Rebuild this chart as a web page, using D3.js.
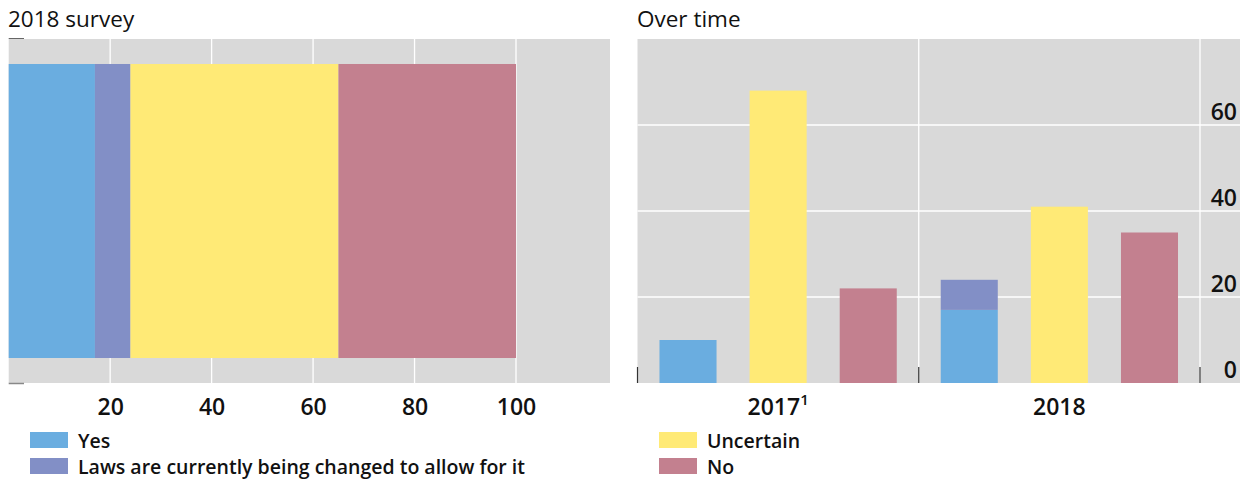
<!DOCTYPE html>
<html>
<head>
<meta charset="utf-8">
<script src="https://cdn.jsdelivr.net/npm/d3@7"></script>
<style>
  html, body { margin: 0; padding: 0; background: #fff; }
  svg { display: block; font-family: "Open Sans", "Noto Sans", sans-serif; }
</style>
</head>
<body>
<svg id="chart" width="1247" height="479"></svg>
<script>
// Answer categories and their colours
const series = ["Yes", "Laws are currently being changed to allow for it", "Uncertain", "No"];
const colors = ["#6aade0", "#828fc6", "#ffea76", "#c3808f"];

// 2018 survey shares (per cent)
const survey2018 = [17, 7, 41, 35];

// Over time: survey years and shares per answer
const years = ["2017", "2018"];
const yesByYear = [10, 17];
const lawsByYear = [0, 7];
const uncertainByYear = [68, 41];
const noByYear = [22, 35];

const leftTicks = [20, 40, 60, 80, 100];
const rightTicks = [0, 20, 40, 60];

const svg = d3.select("#chart");
const grey = "#d9d9d9";
const textColor = "#111";
const tickFont = 23;

// ---------- Left panel: 2018 survey ----------
const L = { left: 8.7, right: 610, top: 39, bottom: 383 };
const xL = d3.scaleLinear().domain([0, 100]).range([L.left, 516]);
const yL = d3.scaleBand().domain(["2018"]).range([L.top, L.bottom]).paddingInner(0).paddingOuter(0.085);

const gL = svg.append("g");
gL.append("rect").attr("x", L.left).attr("y", L.top)
  .attr("width", L.right - L.left).attr("height", L.bottom - L.top).attr("fill", grey);

gL.selectAll("line.grid").data(leftTicks).join("line")
  .attr("class", "grid")
  .attr("x1", d => xL(d)).attr("x2", d => xL(d))
  .attr("y1", L.top).attr("y2", L.bottom)
  .attr("stroke", "#fff").attr("stroke-width", 1.3);

let cum = 0;
const segs = survey2018.map((v, i) => { const s = { i, x0: cum, x1: cum + v }; cum += v; return s; });
gL.selectAll("rect.seg").data(segs).join("rect")
  .attr("class", "seg")
  .attr("x", d => xL(d.x0)).attr("width", d => xL(d.x1) - xL(d.x0))
  .attr("y", yL("2018")).attr("height", yL.bandwidth())
  .attr("fill", d => colors[d.i]);

// small axis marks at the corners
gL.append("line").attr("x1", L.left).attr("x2", 24).attr("y1", 38.5).attr("y2", 38.5)
  .attr("stroke", "#666").attr("stroke-width", 1);
gL.append("line").attr("x1", L.left).attr("x2", 24).attr("y1", 383.5).attr("y2", 383.5)
  .attr("stroke", "#888").attr("stroke-width", 1.5);

const axL = d3.axisBottom(xL).tickValues(leftTicks).tickSize(0).tickPadding(0);
const axLg = gL.append("g").attr("transform", `translate(0,${L.bottom})`).call(axL);
axLg.select(".domain").remove();
axLg.selectAll("text").attr("dy", 0).attr("y", 32)
  .attr("font-size", tickFont).attr("font-weight", 600).attr("fill", textColor)
  .attr("font-family", "'Open Sans', sans-serif");

svg.append("text").attr("x", 8).attr("y", 27).text("2018 survey")
  .attr("font-size", 22.5).attr("fill", textColor);

// ---------- Right panel: over time ----------
const R = { left: 637.5, right: 1240, top: 39, bottom: 383 };
const xR = d3.scaleBand().domain(years).range([R.left, 1200]).padding(0);
const yR = d3.scaleLinear().domain([0, 80]).range([R.bottom, R.top]);
const slot = d3.scaleBand().domain(["yes", "uncertain", "no"])
  .range([0, xR.bandwidth()]).paddingInner(0.367).paddingOuter(0.244);

const gR = svg.append("g");
gR.append("rect").attr("x", R.left).attr("y", R.top)
  .attr("width", R.right - R.left).attr("height", R.bottom - R.top).attr("fill", grey);

gR.selectAll("line.hgrid").data(rightTicks.filter(d => d > 0)).join("line")
  .attr("class", "hgrid")
  .attr("x1", R.left).attr("x2", R.right)
  .attr("y1", d => yR(d)).attr("y2", d => yR(d))
  .attr("stroke", "#fff").attr("stroke-width", 1.3);

gR.selectAll("line.vgrid").data([years[1]]).join("line")
  .attr("class", "vgrid")
  .attr("x1", d => xR(d)).attr("x2", d => xR(d))
  .attr("y1", R.top).attr("y2", R.bottom)
  .attr("stroke", "#fff").attr("stroke-width", 1.3);
gR.append("line").attr("x1", xR.range()[1]).attr("x2", xR.range()[1])
  .attr("y1", R.top).attr("y2", R.bottom)
  .attr("stroke", "#fff").attr("stroke-width", 1.3);

const rows = years.map((y, i) => ({
  year: y, yes: yesByYear[i], laws: lawsByYear[i], uncertain: uncertainByYear[i], no: noByYear[i]
}));

const bars = [];
rows.forEach(r => {
  bars.push({ year: r.year, slotKey: "yes", y0: 0, y1: r.yes, c: colors[0] });
  if (r.laws > 0) bars.push({ year: r.year, slotKey: "yes", y0: r.yes, y1: r.yes + r.laws, c: colors[1] });
  bars.push({ year: r.year, slotKey: "uncertain", y0: 0, y1: r.uncertain, c: colors[2] });
  bars.push({ year: r.year, slotKey: "no", y0: 0, y1: r.no, c: colors[3] });
});

gR.selectAll("rect.bar").data(bars).join("rect")
  .attr("class", "bar")
  .attr("x", d => xR(d.year) + slot(d.slotKey))
  .attr("width", slot.bandwidth())
  .attr("y", d => yR(d.y1))
  .attr("height", d => yR(d.y0) - yR(d.y1))
  .attr("fill", d => d.c);

// category tick marks along the baseline
const tickXs = [...years.map(y => xR(y)), xR.range()[1]];
gR.selectAll("line.ctick").data(tickXs).join("line")
  .attr("class", "ctick")
  .attr("x1", d => d).attr("x2", d => d)
  .attr("y1", R.bottom - 16).attr("y2", R.bottom)
  .attr("stroke", "#333").attr("stroke-width", 1.2);

// value axis labels sit inside the plot, just above each gridline
const axR = d3.axisRight(yR).tickValues(rightTicks).tickSize(0).tickPadding(0);
const axRg = gR.append("g").attr("transform", `translate(${1237},0)`).call(axR);
axRg.select(".domain").remove();
axRg.selectAll("text").attr("x", 0).attr("dy", "-0.25em")
  .attr("text-anchor", "end")
  .attr("font-size", tickFont).attr("font-weight", 600).attr("fill", textColor)
  .attr("font-family", "'Open Sans', sans-serif");

// year labels, 2017 with footnote marker
const yearLbl = gR.selectAll("text.year").data(years).join("text")
  .attr("class", "year")
  .attr("x", d => xR(d) + xR.bandwidth() / 2)
  .attr("y", 415)
  .attr("text-anchor", "middle")
  .attr("font-size", tickFont).attr("font-weight", 600).attr("fill", textColor);
yearLbl.each(function (d) {
  const t = d3.select(this);
  t.append("tspan").text(d);
  if (d === "2017") {
    t.append("tspan").text("1").attr("font-size", 15).attr("dy", -10);
  }
});

svg.append("text").attr("x", 637).attr("y", 27).text("Over time")
  .attr("font-size", 22.5).attr("fill", textColor);

// ---------- Legends ----------
const legendItems = [
  { i: 0, x: 30, y: 432 },
  { i: 1, x: 30, y: 458 },
  { i: 2, x: 659, y: 432 },
  { i: 3, x: 659, y: 458 }
];
const lg = svg.append("g");
lg.selectAll("rect.sw").data(legendItems).join("rect")
  .attr("class", "sw")
  .attr("x", d => d.x).attr("y", d => d.y)
  .attr("width", 38).attr("height", 16)
  .attr("fill", d => colors[d.i]);
lg.selectAll("text.lt").data(legendItems).join("text")
  .attr("class", "lt")
  .attr("x", d => d.x + 48).attr("y", d => d.y + 15.5)
  .text(d => series[d.i])
  .attr("font-size", 19.5).attr("font-weight", 600).attr("fill", textColor);
</script>
</body>
</html>
